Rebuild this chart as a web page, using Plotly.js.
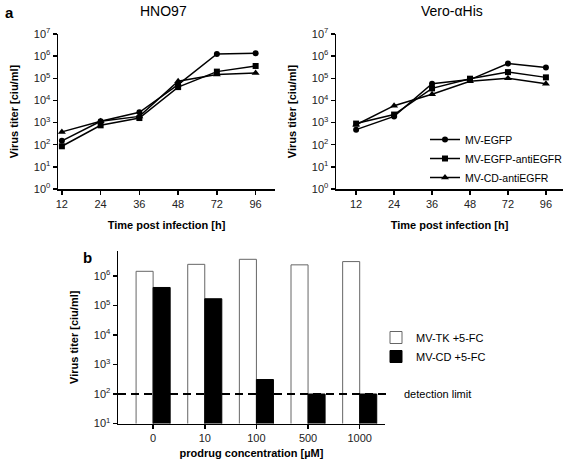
<!DOCTYPE html>
<html><head><meta charset="utf-8">
<script src="https://cdn.plot.ly/plotly-3.0.1.min.js"></script>
<style>body{margin:0;padding:0;background:#fff}#chart{width:565px;height:462px}</style>
</head><body><div id="chart"></div>
<script>
// ---- data ----
const hours = ['12','24','36','48','72','96'];
const seriesNames = ['MV-EGFP','MV-EGFP-antiEGFR','MV-CD-antiEGFR'];
const seriesSymbols = ['circle','square','triangle-up'];
const hno97_EGFP = [150, 1150, 2900, 52000, 1250000, 1350000];
const hno97_EGFPanti = [85, 750, 1600, 40000, 200000, 360000];
const hno97_CDanti = [380, 1150, 1900, 73000, 150000, 175000];
const vero_EGFP = [480, 1900, 57000, 87000, 460000, 310000];
const vero_EGFPanti = [900, 2300, 35000, 96000, 190000, 110000];
const vero_CDanti = [800, 5800, 19000, 73000, 100000, 57000];
const prodrugConc = ['0','10','100','500','1000'];
const tkTiter = [1450000, 2500000, 3700000, 2400000, 3100000];
const cdTiter = [410000, 170000, 310, 100, 100];
const detectionLimit = 100;
const yTicksA = [1,10,100,1e3,1e4,1e5,1e6,1e7];
const yTickTextA = ['10<sup>0</sup>','10<sup>1</sup>','10<sup>2</sup>','10<sup>3</sup>','10<sup>4</sup>','10<sup>5</sup>','10<sup>6</sup>','10<sup>7</sup>'];
const yTicksB = [10,100,1e3,1e4,1e5,1e6];
const yTickTextB = ['10<sup>1</sup>','10<sup>2</sup>','10<sup>3</sup>','10<sup>4</sup>','10<sup>5</sup>','10<sup>6</sup>'];

const FONT = 'Liberation Sans, Arial, sans-serif';
const W = 565, H = 462;
const px = v => v / W, py = v => 1 - v / H;

const hnoData = [hno97_EGFP, hno97_EGFPanti, hno97_CDanti];
const veroData = [vero_EGFP, vero_EGFPanti, vero_CDanti];
const traces = [];
hnoData.forEach((d, i) => traces.push({
  x: hours, y: d, type: 'scatter', mode: 'lines+markers', xaxis: 'x', yaxis: 'y',
  name: seriesNames[i], showlegend: false,
  line: {color: '#000', width: 1.5},
  marker: {symbol: seriesSymbols[i], size: i === 2 ? 7 : 6, color: '#000'}
}));
veroData.forEach((d, i) => traces.push({
  x: hours, y: d, type: 'scatter', mode: 'lines+markers', xaxis: 'x2', yaxis: 'y2',
  name: seriesNames[i], showlegend: true, legend: 'legend',
  line: {color: '#000', width: 1.5},
  marker: {symbol: seriesSymbols[i], size: i === 2 ? 7 : 6, color: '#000'}
}));
traces.push({
  x: prodrugConc, y: tkTiter, type: 'bar', xaxis: 'x3', yaxis: 'y3',
  name: 'MV-TK +5-FC', legend: 'legend2',
  marker: {color: '#fff', line: {color: '#666', width: 1}}
});
traces.push({
  x: prodrugConc, y: cdTiter, type: 'bar', xaxis: 'x3', yaxis: 'y3',
  name: 'MV-CD +5-FC', legend: 'legend2',
  marker: {color: '#000', line: {color: '#000', width: 1}}
});

const axisCommon = {
  showline: true, linecolor: '#000', linewidth: 1.5, ticks: 'outside', ticklen: 4,
  tickwidth: 1.5, tickcolor: '#000', showgrid: false, zeroline: false,
  tickfont: {family: FONT, size: 11, color: '#222'}
};
const xTitle = (t, s) => ({text: '<b>' + t + '</b>', font: {family: FONT, size: 11, color: '#000'}, standoff: s});
const yTitle = {text: '<b>Virus titer [ciu/ml]</b>', font: {family: FONT, size: 11, color: '#000'}, standoff: 13};

const layout = {
  width: W, height: H, autosize: false,
  margin: {l: 0, r: 0, t: 0, b: 0, autoexpand: false},
  paper_bgcolor: '#fff', plot_bgcolor: 'rgba(0,0,0,0)',
  font: {family: FONT, color: '#000'},
  barmode: 'group', bargap: 0.34, bargroupgap: 0,
  xaxis: Object.assign({}, axisCommon, {domain: [px(58), px(275)], anchor: 'y', type: 'category',
    range: [-0.1, 5.5], title: xTitle('Time post infection [h]', 12)}),
  yaxis: Object.assign({}, axisCommon, {domain: [py(189), py(34)], anchor: 'x', type: 'log',
    range: [0, 7], tickvals: yTicksA, ticktext: yTickTextA, title: yTitle}),
  xaxis2: Object.assign({}, axisCommon, {domain: [px(336), px(563)], anchor: 'y2', type: 'category',
    range: [-0.53, 5.45], title: xTitle('Time post infection [h]', 12)}),
  yaxis2: Object.assign({}, axisCommon, {domain: [py(189), py(34)], anchor: 'x2', type: 'log',
    range: [0, 7], tickvals: yTicksA, ticktext: yTickTextA, title: yTitle}),
  xaxis3: Object.assign({}, axisCommon, {domain: [px(118), px(385)], anchor: 'y3', type: 'category',
    range: [-0.68, 4.49], title: xTitle('prodrug concentration [µM]', 6)}),
  yaxis3: Object.assign({}, axisCommon, {domain: [py(423.5), py(251)], anchor: 'x3', type: 'log',
    range: [1, 6.85], tickvals: yTicksB, ticktext: yTickTextB, title: yTitle}),
  legend: {x: px(425), y: py(125), xanchor: 'left', yanchor: 'top', bgcolor: 'rgba(0,0,0,0)',
    font: {family: FONT, size: 10.5, color: '#000'}, itemwidth: 30, tracegroupgap: 0},
  legend2: {x: px(376), y: py(323), xanchor: 'left', yanchor: 'top', bgcolor: 'rgba(0,0,0,0)',
    font: {family: FONT, size: 11, color: '#000'}, itemwidth: 30, traceorder: 'normal'},
  shapes: [{type: 'line', xref: 'x3 domain', yref: 'y3', x0: 0, x1: 1.012,
    y0: detectionLimit, y1: detectionLimit,
    line: {color: '#000', width: 2, dash: '8px,5px'}}],
  annotations: [
    {text: '<b>a</b>', xref: 'paper', yref: 'paper', x: px(3), y: py(2), xanchor: 'left', yanchor: 'top',
      showarrow: false, font: {family: FONT, size: 15, color: '#000'}},
    {text: '<b>b</b>', xref: 'paper', yref: 'paper', x: px(81), y: py(247), xanchor: 'left', yanchor: 'top',
      showarrow: false, font: {family: FONT, size: 15, color: '#000'}},
    {text: 'HNO97', xref: 'paper', yref: 'paper', x: px(163), y: py(1), xanchor: 'center', yanchor: 'top',
      showarrow: false, font: {family: FONT, size: 14, color: '#000'}},
    {text: 'Vero-αHis', xref: 'paper', yref: 'paper', x: px(452), y: py(1), xanchor: 'center', yanchor: 'top',
      showarrow: false, font: {family: FONT, size: 14, color: '#000'}},
    {text: 'detection limit', xref: 'paper', yref: 'paper', x: px(402), y: py(394), xanchor: 'left', yanchor: 'middle',
      showarrow: false, font: {family: FONT, size: 11, color: '#000'}}
  ]
};
Plotly.newPlot('chart', traces, layout, {displayModeBar: false, staticPlot: true});
</script></body></html>
